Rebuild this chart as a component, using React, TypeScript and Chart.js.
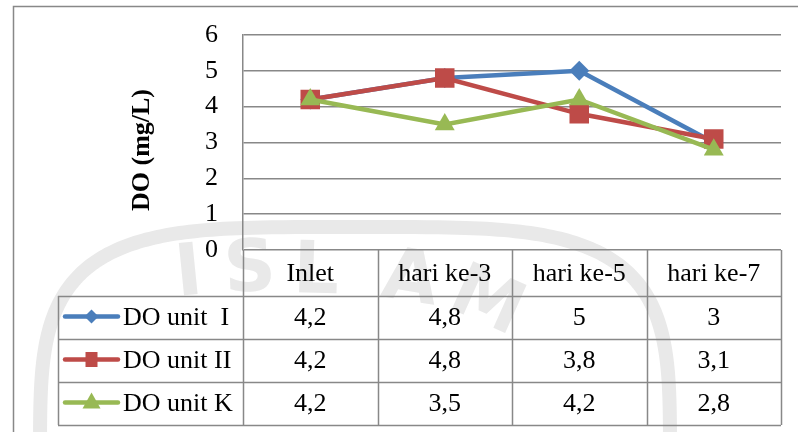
import React, { useEffect, useRef } from 'react';
import { Chart, registerables } from 'chart.js';

Chart.register(...registerables);

// Chart data
const categories = ['Inlet', 'hari ke-3', 'hari ke-5', 'hari ke-7'];
const seriesNames = ['DO unit  I', 'DO unit II', 'DO unit K'];
const doUnitI = [4.2, 4.8, 5, 3];
const doUnitII = [4.2, 4.8, 3.8, 3.1];
const doUnitK = [4.2, 3.5, 4.2, 2.8];
const yTickValues = [0, 1, 2, 3, 4, 5, 6];
const yAxisTitle = 'DO (mg/L)';
const watermarkLetters = ['I', 'S', 'L', 'A', 'M'];

const seriesValues = [doUnitI, doUnitII, doUnitK];

// Styling
const SERIES_COLORS = ['#4A7EBB', '#BE4B48', '#98B954'];
const SERIES_POINTS = ['rectRot', 'rect', 'triangle'];
const SERIES_RADII = [10, 13.8, 11.5];
const GRID = '#888888';
const SEAL = '#e9e9e9';
const FONT = "'Liberation Serif', 'Times New Roman', serif";
const FONT_SIZE = 26;

const fmt = (v: number) => String(v).replace('.', ',');

// Legend swatch marker inside the data table
function drawSwatchMarker(ctx: CanvasRenderingContext2D, kind: string, cx: number, cy: number, color: string) {
  ctx.fillStyle = color;
  ctx.beginPath();
  if (kind === 'rectRot') {
    ctx.moveTo(cx, cy - 7);
    ctx.lineTo(cx + 7, cy);
    ctx.lineTo(cx, cy + 7);
    ctx.lineTo(cx - 7, cy);
  } else if (kind === 'rect') {
    ctx.rect(cx - 6, cy - 7.5, 12, 15);
  } else {
    ctx.moveTo(cx, cy - 10);
    ctx.lineTo(cx + 9, cy + 6);
    ctx.lineTo(cx - 9, cy + 6);
  }
  ctx.closePath();
  ctx.fill();
}

// Faint seal printed behind the chart
const watermarkPlugin = {
  id: 'watermark',
  beforeDraw(chart: any) {
    const { ctx, width, height } = chart;
    ctx.save();
    ctx.fillStyle = '#ffffff';
    ctx.fillRect(0, 0, width, height);

    // rounded (superellipse) ring of the seal
    const cx = 355, cy = 470, a = 315, b = 243, n = 4;
    ctx.strokeStyle = SEAL;
    ctx.lineWidth = 14;
    ctx.beginPath();
    for (let k = 0; k <= 360; k++) {
      const t = (k / 360) * Math.PI * 2;
      const c = Math.cos(t), s = Math.sin(t);
      const px = cx + a * Math.sign(c) * Math.pow(Math.abs(c), 2 / n);
      const py = cy + b * Math.sign(s) * Math.pow(Math.abs(s), 2 / n);
      if (k === 0) ctx.moveTo(px, py);
      else ctx.lineTo(px, py);
    }
    ctx.closePath();
    ctx.stroke();

    ctx.fillStyle = SEAL;
    ctx.font = "bold 72px 'DejaVu Sans', sans-serif";
    ctx.textAlign = 'center';
    ctx.textBaseline = 'middle';
    const spots = [
      [189, 276, -0.1],
      [250, 272, -0.05],
      [316, 274, 0.03],
      [410, 282, 0.16],
      [486, 304, 0.42],
    ];
    watermarkLetters.forEach((ch, i) => {
      const [x, y, r] = spots[i];
      ctx.save();
      ctx.translate(x, y);
      ctx.rotate(r);
      ctx.fillText(ch, 0, 0);
      ctx.restore();
    });

    // outer frame of the chart object
    ctx.strokeStyle = GRID;
    ctx.lineWidth = 1.5;
    ctx.strokeRect(13.5, 6.5, 900, 900);
    ctx.restore();
  },
};

// Data table under the plot, with legend keys in the first column
const dataTablePlugin = {
  id: 'dataTable',
  afterDraw(chart: any) {
    const { ctx, chartArea, scales } = chart;
    const xs = scales.x;
    const left = chartArea.left;
    const right = chartArea.right;
    const band = (right - left) / categories.length;
    const headerTop = chartArea.bottom;
    const headerH = 46;
    const rowH = 43;
    const legendLeft = 58;
    const rowsTop = headerTop + headerH;
    const bottom = rowsTop + rowH * seriesNames.length;

    ctx.save();
    ctx.strokeStyle = GRID;
    ctx.lineWidth = 1.5;
    ctx.beginPath();
    for (let r = 0; r <= seriesNames.length; r++) {
      const y = Math.round(rowsTop + r * rowH) + 0.5;
      ctx.moveTo(legendLeft, y);
      ctx.lineTo(right, y);
    }
    for (let i = 0; i <= categories.length; i++) {
      const x = Math.round(left + i * band) + 0.5;
      ctx.moveTo(x, headerTop);
      ctx.lineTo(x, bottom);
    }
    ctx.moveTo(legendLeft + 0.5, rowsTop);
    ctx.lineTo(legendLeft + 0.5, bottom);
    ctx.stroke();

    ctx.fillStyle = '#000';
    ctx.font = `${FONT_SIZE}px ${FONT}`;
    ctx.textAlign = 'center';
    ctx.textBaseline = 'middle';
    categories.forEach((c, i) => {
      ctx.fillText(c, xs.getPixelForValue(i), headerTop + headerH / 2 + 1);
    });
    seriesValues.forEach((vals, r) => {
      const cy = rowsTop + r * rowH + rowH / 2 + 1;
      vals.forEach((v, i) => {
        ctx.fillText(fmt(v), xs.getPixelForValue(i), cy);
      });
    });

    // legend keys
    seriesNames.forEach((name, r) => {
      const cy = rowsTop + r * rowH + rowH / 2 - 1;
      const color = SERIES_COLORS[r];
      ctx.strokeStyle = color;
      ctx.lineWidth = 4.5;
      ctx.lineCap = 'round';
      ctx.beginPath();
      ctx.moveTo(65, cy);
      ctx.lineTo(118, cy);
      ctx.stroke();
      drawSwatchMarker(ctx, SERIES_POINTS[r], 91.5, cy, color);
      ctx.fillStyle = '#000';
      ctx.textAlign = 'left';
      ctx.fillText(name, 123, cy + 2);
    });

    // y axis title
    ctx.font = `bold 26px ${FONT}`;
    ctx.textAlign = 'center';
    ctx.translate(142, 150);
    ctx.rotate(-Math.PI / 2);
    ctx.fillText(yAxisTitle, 0, 0);
    ctx.restore();
  },
};

export default function App() {
  const canvasRef = useRef<HTMLCanvasElement>(null);

  useEffect(() => {
    const canvas = canvasRef.current;
    if (!canvas) return;
    const chart = new Chart(canvas, {
      type: 'line',
      data: {
        labels: categories,
        datasets: seriesNames.map((name, i) => ({
          label: name,
          data: seriesValues[i],
          borderColor: SERIES_COLORS[i],
          backgroundColor: SERIES_COLORS[i],
          borderWidth: 4.5,
          pointStyle: SERIES_POINTS[i] as any,
          pointRadius: SERIES_RADII[i],
          pointBorderWidth: 0,
          pointBackgroundColor: SERIES_COLORS[i],
          tension: 0,
          order: seriesNames.length - i,
        })),
      },
      options: {
        responsive: false,
        animation: false,
        devicePixelRatio: 1,
        layout: { padding: { left: 13, top: 35, right: 17, bottom: 182 } },
        plugins: {
          legend: { display: false },
          tooltip: { enabled: false },
          title: { display: false },
        },
        scales: {
          x: {
            type: 'category',
            offset: true,
            display: false,
          },
          y: {
            min: 0,
            max: 6,
            afterBuildTicks: (scale: any) => {
              scale.ticks = yTickValues.map((v) => ({ value: v }));
            },
            afterFit: (scale: any) => {
              scale.width = 230;
            },
            ticks: {
              color: '#000',
              padding: 0,
              font: { family: FONT, size: FONT_SIZE },
            },
            grid: {
              color: GRID,
              lineWidth: 1.5,
              drawTicks: true,
              tickLength: 25,
              tickColor: 'rgba(0,0,0,0)',
            },
            border: { display: true, color: GRID, width: 1.5 },
          },
        },
      },
      plugins: [watermarkPlugin, dataTablePlugin],
    } as any);
    return () => chart.destroy();
  }, []);

  return (
    <div style={{ position: 'absolute', left: 0, top: 0, width: 798, height: 432 }}>
      <canvas ref={canvasRef} width={798} height={432} style={{ display: 'block' }} />
    </div>
  );
}
